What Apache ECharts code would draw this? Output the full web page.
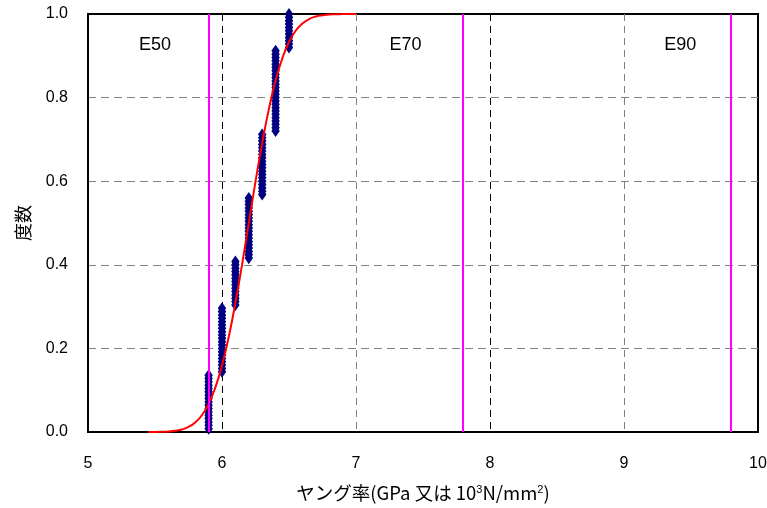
<!DOCTYPE html>
<html>
<head>
<meta charset="utf-8">
<script src="https://cdn.jsdelivr.net/npm/echarts@6/dist/echarts.min.js"></script>
<style>
    html, body { margin: 0; padding: 0; background: #fff; }
    #chart { width: 767px; height: 508px; }
</style>
</head>
<body>
<div id="chart"></div>
<script>
// 試験値 (0.1刻み) と その個数
var modulusValues = [5.9, 6.0, 6.1, 6.2, 6.3, 6.4, 6.5];
var modulusCounts = [17, 20, 14, 19, 19, 25, 11];

// 近似曲線
var curveX = [5.45, 5.5, 5.55, 5.6, 5.65, 5.7, 5.75, 5.8, 5.85, 5.9, 5.95, 6.0, 6.05, 6.1, 6.15, 6.2,
    6.25, 6.3, 6.35, 6.4, 6.45, 6.5, 6.55, 6.6, 6.65, 6.7, 6.75, 6.8, 6.85, 6.9, 6.95, 7.0];
var curveY = [0.0001, 0.0002, 0.0006, 0.0013, 0.003, 0.006, 0.012, 0.023, 0.04, 0.067, 0.106, 0.159,
    0.227, 0.309, 0.401, 0.5, 0.599, 0.691, 0.773, 0.841, 0.894, 0.933, 0.96, 0.977, 0.988, 0.994,
    0.997, 0.999, 0.9995, 0.9998, 0.9999, 1.0];

// E50 / E70 / E90
var eNames = ['E50', 'E70', 'E90'];
var eValues = [5.9, 7.8, 9.8];

var jpFont = '"Noto Sans CJK JP", sans-serif';
var numFont = '"Liberation Sans", Arial, sans-serif';

(function () {
    var myChart = echarts.init(document.getElementById('chart'));

    // 累積度数
    var total = 0;
    for (var i = 0; i < modulusCounts.length; i++) total += modulusCounts[i];
    var points = [];
    var cum = 0;
    for (var i = 0; i < modulusValues.length; i++) {
        for (var k = 0; k < modulusCounts[i]; k++) {
            cum++;
            points.push([modulusValues[i], cum / total]);
        }
    }

    var curve = [];
    for (var i = 0; i < curveX.length; i++) curve.push([curveX[i], curveY[i]]);

    var eLines = [];
    for (var i = 0; i < eValues.length; i++) eLines.push({ xAxis: eValues[i] });

    // ラベル位置
    var labelX = [5.5, 7.37, 9.42];
    var labelData = [];
    for (var i = 0; i < eNames.length; i++) labelData.push({ name: eNames[i], value: [labelX[i], 0.925] });

    var option = {
        animation: false,
        grid: {
            left: 88,
            right: 9,
            top: 14,
            bottom: 76,
            outerBoundsMode: 'none',
            containLabel: false,
            show: true,
            borderColor: '#000',
            borderWidth: 2
        },
        xAxis: {
            type: 'value',
            min: 5,
            max: 10,
            interval: 1,
            name: 'ヤング率(GPa 又は 10{sup|3}N/mm{sup|2})',
            nameLocation: 'middle',
            nameGap: 52,
            nameTextStyle: {
                color: '#000',
                fontSize: 18.5,
                fontFamily: jpFont,
                rich: {
                    sup: { fontSize: 11, verticalAlign: 'top', fontFamily: numFont, padding: [0, 0, 7, 0] }
                }
            },
            axisLine: { lineStyle: { color: '#000', width: 2 } },
            axisTick: { show: false },
            axisLabel: { color: '#000', fontSize: 16, fontFamily: numFont, margin: 24 },
            splitLine: {
                show: true,
                lineStyle: {
                    color: ['rgba(0,0,0,0)', '#000', '#808080', '#000', '#808080', 'rgba(0,0,0,0)'],
                    type: [7, 5],
                    width: 1
                }
            }
        },
        yAxis: {
            type: 'value',
            min: 0,
            max: 1,
            interval: 0.2,
            name: '度数',
            nameLocation: 'middle',
            nameRotate: 90,
            nameGap: 56,
            nameTextStyle: { color: '#000', fontSize: 18, fontFamily: jpFont },
            axisLine: { show: true, lineStyle: { color: '#000', width: 2 } },
            axisTick: { show: false },
            axisLabel: {
                color: '#000',
                fontSize: 16,
                fontFamily: numFont,
                margin: 20,
                formatter: function (v) { return v.toFixed(1); }
            },
            splitLine: {
                show: true,
                lineStyle: {
                    color: ['rgba(0,0,0,0)', '#808080', '#808080', '#808080', '#808080', 'rgba(0,0,0,0)'],
                    type: [8, 5],
                    width: 1
                }
            }
        },
        series: [
            {
                name: 'E',
                type: 'line',
                data: [],
                markLine: {
                    silent: true,
                    symbol: ['none', 'none'],
                    label: { show: false },
                    lineStyle: { color: '#ff00ff', width: 2, type: 'solid' },
                    data: eLines
                }
            },
            {
                name: '近似',
                type: 'line',
                data: curve,
                smooth: true,
                showSymbol: false,
                lineStyle: { color: '#ff0000', width: 2 }
            },
            {
                name: '度数',
                type: 'scatter',
                data: points,
                symbol: 'diamond',
                symbolSize: [7, 10],
                itemStyle: { color: '#000080', opacity: 1, borderColor: '#000080', borderWidth: 1.2 }
            },
            {
                name: 'label',
                type: 'scatter',
                data: labelData,
                symbolSize: 0,
                silent: true,
                itemStyle: { opacity: 1 },
                label: {
                    show: true,
                    position: 'inside',
                    formatter: '{b}',
                    color: '#000',
                    fontSize: 18,
                    fontFamily: numFont
                }
            }
        ]
    };

    myChart.setOption(option);
})();
</script>
</body>
</html>
